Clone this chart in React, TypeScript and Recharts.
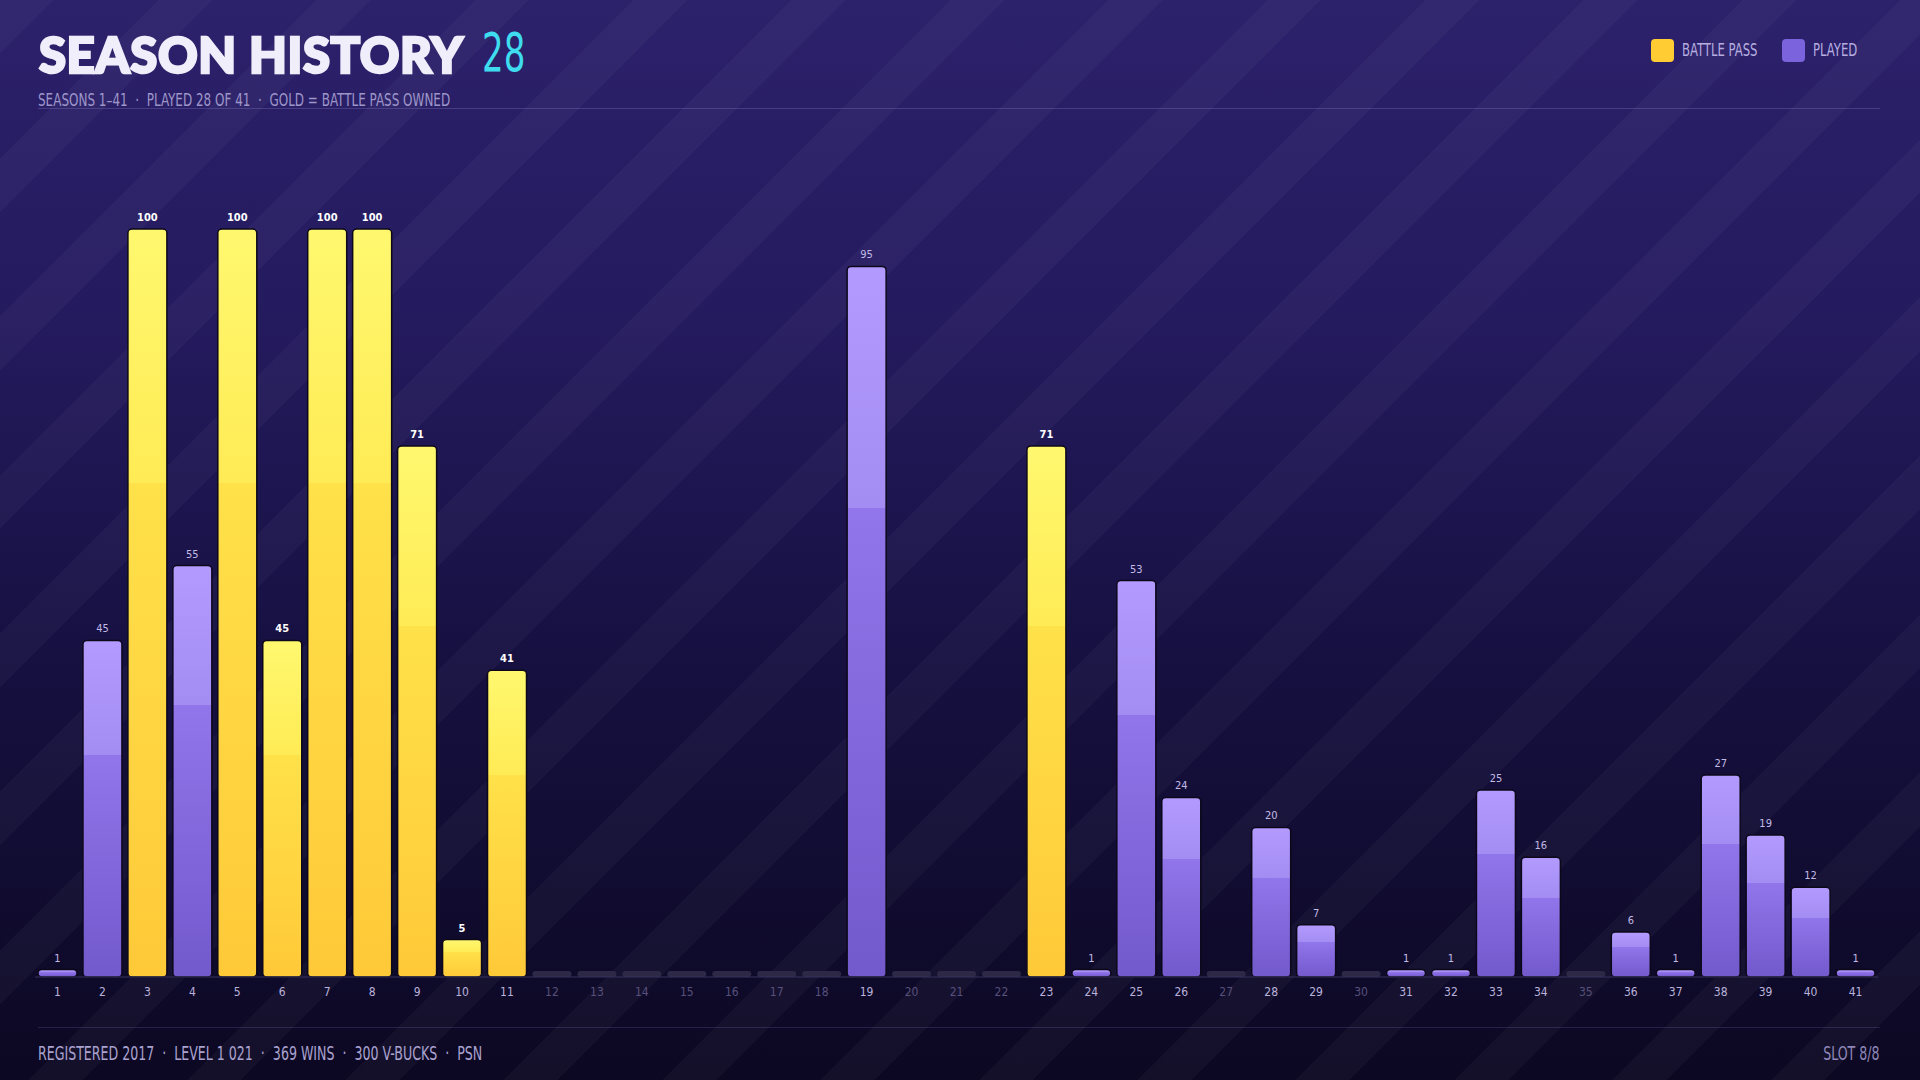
import { BarChart, Bar, XAxis, YAxis, LabelList } from 'recharts';

const seasons = [
  '1', '2', '3', '4', '5', '6', '7', '8', '9', '10', '11', '12', '13', '14', '15', '16', '17', '18', '19', '20', '21',
  '22', '23', '24', '25', '26', '27', '28', '29', '30', '31', '32', '33', '34', '35', '36', '37', '38', '39', '40', '41',
];
// tier progress per season (0 = not played)
const progress = [
  1, 45, 100, 55, 100, 45, 100, 100, 71, 5, 41, 0, 0, 0, 0, 0, 0, 0, 95, 0, 0,
  0, 71, 1, 53, 24, 0, 20, 7, 0, 1, 1, 25, 16, 0, 6, 1, 27, 19, 12, 1,
];
// 1 = battle pass owned
const battlePass = [
  0, 0, 1, 0, 1, 1, 1, 1, 1, 1, 1, 0, 0, 0, 0, 0, 0, 0, 0, 0, 0,
  0, 1, 0, 0, 0, 0, 0, 0, 0, 0, 0, 0, 0, 0, 0, 0, 0, 0, 0, 0,
];
const footerItems = ['REGISTERED 2017', 'LEVEL 1 021', '369 WINS', '300 V-BUCKS', 'PSN'];

const data = seasons.map((s, i) => ({ season: s, value: progress[i], bp: battlePass[i] }));

const NARROW = '"Liberation Sans Narrow", "DejaVu Sans Condensed", "Roboto Condensed", sans-serif';

function SeasonBar(props: any) {
  const { x, y, width, height, payload } = props;
  if (!payload.value) {
    return <rect x={x} y={y} width={width} height={height} rx={3} fill="#2c2846" />;
  }
  const fill = payload.bp ? 'url(#goldFill)' : 'url(#purpleFill)';
  return (
    <rect
      x={x}
      y={y}
      width={width}
      height={height}
      rx={4}
      fill={fill}
      stroke="#0c0819"
      strokeWidth={1.5}
    />
  );
}

function SeasonTick(props: any) {
  const { x, y, payload } = props;
  const played = progress[payload.index] > 0;
  return (
    <text
      x={x}
      y={y + 11}
      textAnchor="middle"
      fontFamily={NARROW}
      fontSize={12}
      fill={played ? '#bab2dc' : '#57517c'}
    >
      {payload.value}
    </text>
  );
}

function ValueLabel(props: any) {
  const { x, y, width, value, index } = props;
  if (!value) return null;
  const gold = battlePass[index] === 1;
  return (
    <text
      x={x + width / 2}
      y={y - 8}
      textAnchor="middle"
      fontFamily={NARROW}
      fontSize={11}
      fontWeight={gold ? 700 : 400}
      fill={gold ? '#ffffff' : '#c2bae6'}
    >
      {value}
    </text>
  );
}

const squeeze = (origin: string, k = 0.72): React.CSSProperties => ({
  position: 'absolute',
  whiteSpace: 'pre',
  transform: `scaleX(${k})`,
  transformOrigin: origin,
});

export default function App() {
  return (
    <div
      style={{
        position: 'fixed',
        left: 0,
        top: 0,
        width: 1920,
        height: 1080,
        overflow: 'hidden',
        background:
          'repeating-linear-gradient(135deg, rgba(255,255,255,0.03) 0px, rgba(255,255,255,0.03) 38px, rgba(255,255,255,0) 38px, rgba(255,255,255,0) 112px), linear-gradient(180deg, #2c216b 0%, #241a5e 30%, #161040 62%, #0c0822 100%)',
        fontFamily: NARROW,
      }}
    >
      {/* header */}
      <div
        style={{
          position: 'absolute',
          left: 39,
          top: 24,
          fontFamily: 'Lato, Inter, sans-serif',
          fontWeight: 900,
          fontSize: 49,
          color: '#f1eefc',
          WebkitTextStroke: '2.5px #f1eefc',
          letterSpacing: 0.6,
          lineHeight: '60px',
          whiteSpace: 'pre',
        }}
      >
        SEASON HISTORY
      </div>
      <div style={{ ...squeeze('left', 0.7), left: 482, top: 23, fontSize: 54, lineHeight: '60px', color: '#3fdcef' }}>28</div>
      <div style={{ ...squeeze('left', 0.72), left: 38, top: 89, fontSize: 18.5, color: '#9e96c9' }}>
        {'SEASONS 1–41  ·  PLAYED 28 OF 41  ·  GOLD = BATTLE PASS OWNED'}
      </div>
      <div style={{ position: 'absolute', left: 38, width: 1842, top: 108, height: 1, background: 'rgba(160,150,220,0.25)' }} />

      {/* legend */}
      <div style={{ position: 'absolute', left: 1651, top: 39, width: 23, height: 23, borderRadius: 4, background: '#ffcc33' }} />
      <div style={{ ...squeeze('left'), left: 1682, top: 39, fontSize: 18, color: '#b6aee0' }}>BATTLE PASS</div>
      <div style={{ position: 'absolute', left: 1782, top: 39, width: 23, height: 23, borderRadius: 4, background: '#7b63dd' }} />
      <div style={{ ...squeeze('left'), left: 1813, top: 39, fontSize: 18, color: '#b6aee0' }}>PLAYED</div>

      <div style={{ position: 'absolute', left: 0, top: 0 }}>
        <BarChart
          width={1920}
          height={1080}
          data={data}
          margin={{ top: 229, right: 42, bottom: 73, left: 35 }}
          barCategoryGap={3}
        >
          <defs>
            <linearGradient id="goldFill" x1="0" y1="0" x2="0" y2="1">
              <stop offset="0%" stopColor="#fff86f" />
              <stop offset="34%" stopColor="#ffeb55" />
              <stop offset="34%" stopColor="#ffe14a" />
              <stop offset="100%" stopColor="#ffc938" />
            </linearGradient>
            <linearGradient id="purpleFill" x1="0" y1="0" x2="0" y2="1">
              <stop offset="0%" stopColor="#b29aff" />
              <stop offset="34%" stopColor="#a48df2" />
              <stop offset="34%" stopColor="#9175ea" />
              <stop offset="100%" stopColor="#7259cc" />
            </linearGradient>
          </defs>
          <XAxis
            dataKey="season"
            interval={0}
            tickLine={false}
            axisLine={{ stroke: '#37325e', strokeWidth: 1 }}
            tick={<SeasonTick />}
            height={30}
          />
          <YAxis hide domain={[0, 100]} />
          <Bar dataKey="value" shape={<SeasonBar />} minPointSize={6} isAnimationActive={false}>
            <LabelList dataKey="value" content={<ValueLabel />} />
          </Bar>
        </BarChart>
      </div>

      {/* footer */}
      <div style={{ position: 'absolute', left: 38, width: 1842, top: 1027, height: 1, background: 'rgba(160,150,220,0.18)' }} />
      <div style={{ ...squeeze('left', 0.7), left: 38, top: 1041, fontSize: 20, color: '#aaa2cf' }}>
        {footerItems.join('  ·  ')}
      </div>
      <div style={{ ...squeeze('right', 0.7), right: 40, top: 1041, fontSize: 20, color: '#8e86b8' }}>SLOT 8/8</div>
    </div>
  );
}
